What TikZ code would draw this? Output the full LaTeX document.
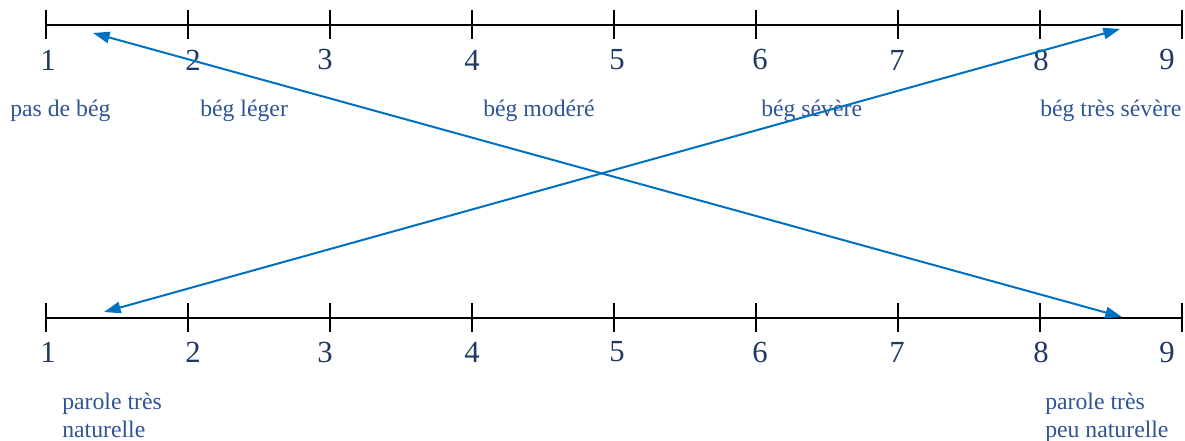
\documentclass[tikz,border=0pt]{standalone}
\usepackage{fontspec}
\setmainfont{Liberation Serif}
\usetikzlibrary{arrows.meta,positioning}

\begin{document}
\begin{tikzpicture}[
    x=0.75pt, y=-0.75pt,
    >={Triangle[length=12.5pt,width=8.5pt]},
    num/.style={numColor, font=\fontsize{23}{27}\selectfont, inner sep=0pt},
    lbl/.style={labelColor, font=\fontsize{17.8}{20.5}\selectfont, inner sep=0pt, anchor=base west, align=left}
    ]
    
    % Parameters
    \def\xA{46}   % first tick
    \def\dx{142}  % tick spacing
    \def\yTop{25}
    \def\yBot{318}
    \def\tickH{14.5}
    
    % Colors
    \definecolor{numColor}{HTML}{1F3864}
    \definecolor{labelColor}{HTML}{2F5496}
    \definecolor{arrowColor}{HTML}{0070C0}
    
    \useasboundingbox (0,0) rectangle (1185,441);
    
    % Axes
    \draw[black, line width=1.5pt] (\xA,\yTop) -- ({\xA+8*\dx},\yTop);
    \draw[black, line width=1.5pt] (\xA,\yBot) -- ({\xA+8*\dx},\yBot);
    \foreach \i in {0,...,8} {
        \draw[black, line width=1.5pt] ({\xA+\i*\dx},\yTop-\tickH) -- ({\xA+\i*\dx},\yTop+\tickH);
        \draw[black, line width=1.5pt] ({\xA+\i*\dx},\yBot-\tickH) -- ({\xA+\i*\dx},\yBot+\tickH);
    }
    
    % Numbers
    \foreach \n/\off in {1/2,2/5,3/-5,4/0,5/3,6/4,7/-1,8/1,9/-15} {
        \node[num] (t\n) at ({\xA+(\n-1)*\dx+\off},60) {\n};
        \node[num] (b\n) at ({\xA+(\n-1)*\dx+\off},352) {\n};
    }
    
    % Labels
    \node[lbl] (none)   at (10,117)   {pas de bég};
    \node[lbl] (light)  at (200,117)  {bég léger};
    \node[lbl] (mod)    at (483,117)  {bég modéré};
    \node[lbl] (sev)    at (761,117)  {bég sévère};
    \node[lbl] (vsev)   at (1040,117) {bég très sévère};
    \node[lbl] (nat)    at (62,437)   {parole très\\naturelle};
    \node[lbl] (unnat)  at (1045,437) {parole très\\peu naturelle};
    
    % Arrows
    \coordinate (A1) at (93,33);
    \coordinate (A2) at (1122,317);
    \coordinate (B1) at (104,312);
    \coordinate (B2) at (1120,29);
    \draw[<->, arrowColor, line width=1.5pt] (A1) -- (A2);
    \draw[<->, arrowColor, line width=1.5pt] (B1) -- (B2);
\end{tikzpicture}
\end{document}
